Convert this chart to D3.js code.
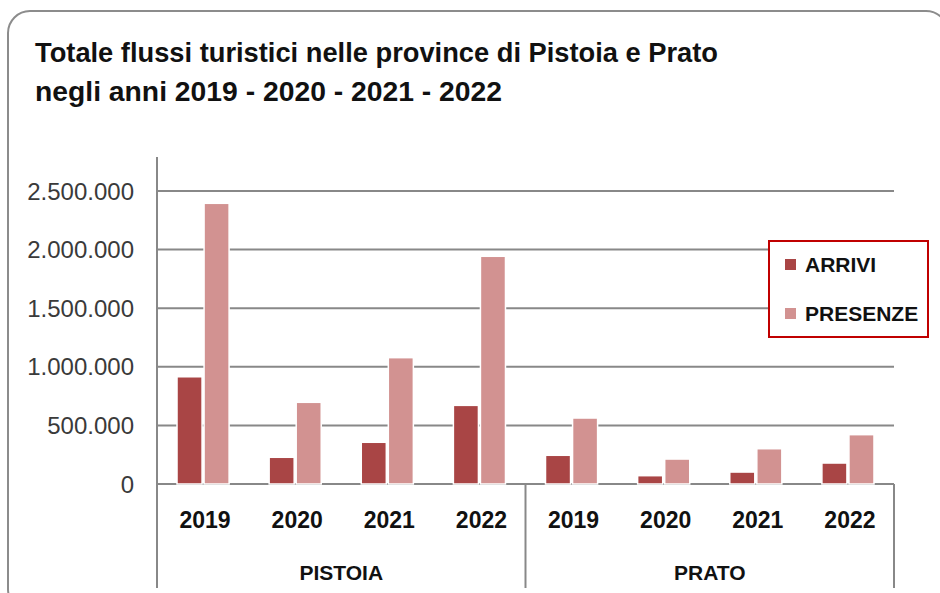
<!DOCTYPE html>
<html>
<head>
<meta charset="utf-8">
<script src="https://cdn.jsdelivr.net/npm/d3@7"></script>
<style>
  body { margin: 0; background: #fff; overflow: hidden; }
  svg text { font-family: "Liberation Sans", Arial, sans-serif; }
</style>
</head>
<body>
<script>
var width = 940,
    height = 593;

// data
var provinces = ['PISTOIA', 'PRATO'];
var years = ['2019', '2020', '2021', '2022'];
var seriesNames = ['ARRIVI', 'PRESENZE'];
var arrivi   = [915000, 228000, 356000, 671000, 245000, 71000, 102000, 179000];
var presenze = [2395000, 697000, 1078000, 1943000, 563000, 213000, 301000, 421000];
var yTicks = [0, 500000, 1000000, 1500000, 2000000, 2500000];

var colors = { ARRIVI: '#a94545', PRESENZE: '#d29291' };

var svg = d3.select('body').append('svg')
    .attr('width', width)
    .attr('height', height);

// outer frame (its right and bottom edges fall outside the picture)
svg.append('rect')
    .attr('x', 8).attr('y', 11)
    .attr('width', 940).attr('height', 600)
    .attr('rx', 22)
    .attr('fill', 'none')
    .attr('stroke', '#8c8c8c')
    .attr('stroke-width', 2);

// title
var titleLines = ['Totale flussi turistici nelle province di Pistoia e Prato',
                  'negli anni 2019 - 2020 - 2021 - 2022'];
var titleWidths = [683, 467];
svg.selectAll('.title')
    .data(titleLines)
    .enter().append('text')
    .attr('class', 'title')
    .attr('x', 35)
    .attr('y', function(d, i) { return 62 + i * 39; })
    .attr('textLength', function(d, i) { return titleWidths[i]; })
    .attr('lengthAdjust', 'spacingAndGlyphs')
    .attr('font-size', 27)
    .attr('font-weight', 'bold')
    .attr('fill', '#111')
    .text(function(d) { return d; });

var plotLeft = 157, plotRight = 894, plotBase = 484, plotTop = 191;

var x0 = d3.scaleBand().domain(provinces).range([plotLeft, plotRight]);
var x1 = d3.scaleBand().domain(years).range([0, x0.bandwidth()]);
var x2 = d3.scaleBand().domain(seriesNames).range([0, x1.bandwidth()])
    .paddingInner(0.074).paddingOuter(0.74);
var y = d3.scaleLinear().domain([0, 2500000]).range([plotBase, plotTop]);

var locale = d3.formatLocale({ decimal: ',', thousands: '.', grouping: [3], currency: ['', '€'] });
var fmt = locale.format(',d');

// gridlines
svg.append('g')
    .selectAll('line')
    .data(yTicks)
    .enter().append('line')
    .attr('x1', plotLeft).attr('x2', plotRight)
    .attr('y1', function(d) { return y(d); })
    .attr('y2', function(d) { return y(d); })
    .attr('stroke', '#888')
    .attr('stroke-width', 2);

// y tick labels
svg.append('g')
    .selectAll('text')
    .data(yTicks)
    .enter().append('text')
    .attr('x', 134)
    .attr('y', function(d) { return y(d); })
    .attr('dy', '0.36em')
    .attr('text-anchor', 'end')
    .attr('font-size', 24)
    .attr('fill', '#3a3a3a')
    .text(function(d) { return fmt(d); });

// y axis line, extends down through category area
svg.append('line')
    .attr('x1', plotLeft).attr('x2', plotLeft)
    .attr('y1', 157).attr('y2', 588)
    .attr('stroke', '#888').attr('stroke-width', 2);

// province dividers
svg.append('g')
    .selectAll('line')
    .data(provinces)
    .enter().append('line')
    .attr('x1', function(d) { return x0(d) + x0.bandwidth(); })
    .attr('x2', function(d) { return x0(d) + x0.bandwidth(); })
    .attr('y1', plotBase).attr('y2', 588)
    .attr('stroke', '#888').attr('stroke-width', 2);

// bars
var rows = [];
provinces.forEach(function(p, pi) {
  years.forEach(function(yr, yi) {
    var k = pi * years.length + yi;
    rows.push({ prov: p, year: yr, ARRIVI: arrivi[k], PRESENZE: presenze[k] });
  });
});

var groups = svg.selectAll('.grp')
    .data(rows)
    .enter().append('g')
    .attr('class', 'grp')
    .attr('transform', function(d) { return 'translate(' + (x0(d.prov) + x1(d.year)) + ',0)'; });

groups.selectAll('rect')
    .data(function(d) { return seriesNames.map(function(s) { return { key: s, value: d[s] }; }); })
    .enter().append('rect')
    .attr('x', function(d) { return x2(d.key); })
    .attr('y', function(d) { return y(d.value); })
    .attr('width', x2.bandwidth())
    .attr('height', function(d) { return plotBase - y(d.value); })
    .attr('fill', function(d) { return colors[d.key]; })
    .attr('stroke', '#fff')
    .attr('stroke-width', 1.5);

// year labels
groups.append('text')
    .attr('x', x1.bandwidth() / 2 + 2)
    .attr('y', 528)
    .attr('text-anchor', 'middle')
    .attr('font-size', 23)
    .attr('font-weight', 'bold')
    .attr('fill', '#111')
    .text(function(d) { return d.year; });

// province labels
svg.selectAll('.prov')
    .data(provinces)
    .enter().append('text')
    .attr('class', 'prov')
    .attr('x', function(d) { return x0(d) + x0.bandwidth() / 2; })
    .attr('y', 580)
    .attr('text-anchor', 'middle')
    .attr('font-size', 21)
    .attr('font-weight', 'bold')
    .attr('fill', '#111')
    .text(function(d) { return d; });

// legend
var legend = svg.append('g');
legend.append('rect')
    .attr('x', 769).attr('y', 241)
    .attr('width', 159).attr('height', 96)
    .attr('fill', '#fff')
    .attr('stroke', '#c00000')
    .attr('stroke-width', 2);

var items = legend.selectAll('.item')
    .data(seriesNames)
    .enter().append('g')
    .attr('class', 'item')
    .attr('transform', function(d, i) { return 'translate(785,' + (259 + i * 49) + ')'; });

items.append('rect')
    .attr('width', 11).attr('height', 11)
    .attr('fill', function(d) { return colors[d]; });

items.append('text')
    .attr('x', 20)
    .attr('y', 13)
    .attr('font-size', 21)
    .attr('font-weight', 'bold')
    .attr('fill', '#111')
    .text(function(d) { return d; });
</script>
</body>
</html>
